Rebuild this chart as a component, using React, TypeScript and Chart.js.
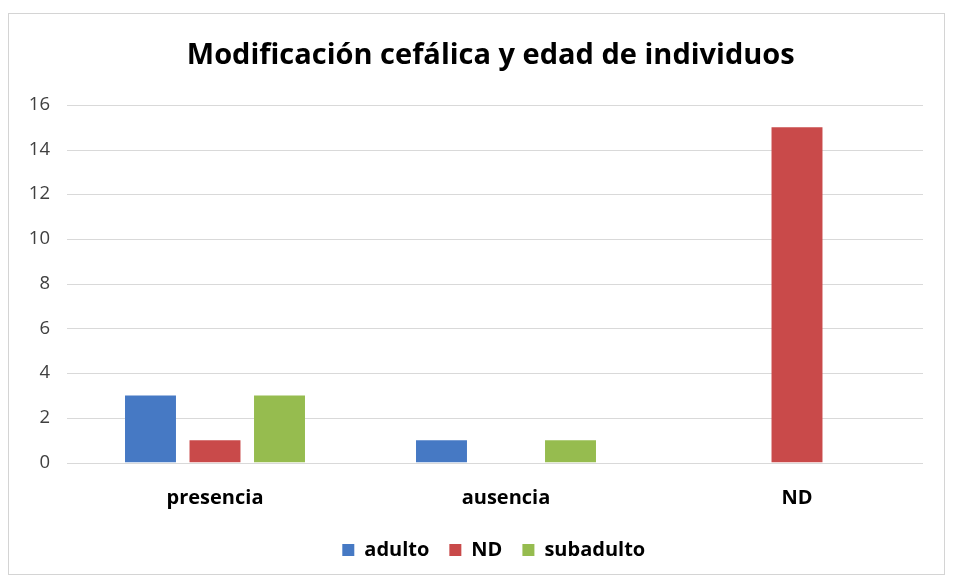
import React, { useEffect, useRef } from "react";
import { Chart, registerables } from "chart.js";

Chart.register(...registerables);

const categories = ["presencia", "ausencia", "ND"];
const adulto = [3, 1, 0];
const nd = [1, 0, 15];
const subadulto = [3, 1, 0];
const yTicks = [0, 2, 4, 6, 8, 10, 12, 14, 16];

const FONT = "'Open Sans', 'Noto Sans', sans-serif";

const gridPlugin = {
  id: "excelGrid",
  beforeDatasetsDraw(chart: any) {
    const { ctx, chartArea, scales } = chart;
    const y = scales.y;
    ctx.save();
    ctx.strokeStyle = "#d9d9d9";
    ctx.lineWidth = 1;
    y.ticks.forEach((t: any) => {
      const py = Math.round(y.getPixelForValue(t.value)) + 0.5;
      ctx.beginPath();
      ctx.moveTo(chartArea.left - 2.5, py);
      ctx.lineTo(chartArea.right - 19.5, py);
      ctx.stroke();
    });
    ctx.restore();
  },
  afterLayout(chart: any) {
    if (chart.titleBlock) chart.titleBlock.left += 22;
    if (chart.legend) chart.legend.left += 28;
  },
};

export default function App() {
  const ref = useRef<HTMLCanvasElement | null>(null);

  useEffect(() => {
    if (!ref.current) return;
    const chart = new Chart(ref.current, {
      type: "bar",
      data: {
        labels: categories,
        datasets: [
          { label: "adulto", data: adulto, backgroundColor: "#4679c4" },
          { label: "ND", data: nd, backgroundColor: "#c94a4a" },
          { label: "subadulto", data: subadulto, backgroundColor: "#96bc4f" },
        ],
      },
      options: {
        animation: false,
        responsive: false,
        maintainAspectRatio: false,
        layout: { padding: { left: 8, right: 1.5, top: 0, bottom: 4 } },
        datasets: {
          bar: { categoryPercentage: 0.665, barPercentage: 0.79 },
        },
        plugins: {
          title: {
            display: true,
            text: "Modificación cefálica y edad de individuos",
            color: "#000000",
            font: { family: FONT, size: 29, weight: "bold" },
            padding: { top: 24.5, bottom: 31.5 },
          },
          legend: {
            position: "bottom",
            labels: {
              boxWidth: 12,
              boxHeight: 12,
              padding: 20,
              color: "#000000",
              font: { family: FONT, size: 20, weight: "bold" },
            },
          },
          tooltip: { enabled: false },
        },
        scales: {
          x: {
            grid: { display: false, drawTicks: false },
            border: { display: false },
            ticks: {
              color: "#000000",
              padding: 23.5,
              font: { family: FONT, size: 20, weight: "bold" },
            },
            afterFit: (s: any) => {
              s.height = 57.5;
            },
          },
          y: {
            min: 0,
            max: 16,
            afterBuildTicks: (s: any) => {
              s.ticks = yTicks.map((v) => ({ value: v }));
            },
            grid: { display: false, drawTicks: false },
            border: { display: false },
            ticks: {
              color: "#404040",
              padding: 19.5,
              font: { family: FONT, size: 18.5 },
            },
            afterFit: (s: any) => {
              s.width = 52.5;
            },
          },
        },
      },
      plugins: [gridPlugin],
    });
    return () => chart.destroy();
  }, []);

  return (
    <div
      style={{
        marginTop: 5,
        width: 937,
        height: 562,
        border: "1px solid #d4d4d4",
        boxSizing: "border-box",
        background: "#ffffff",
      }}
    >
      <canvas ref={ref} width={935} height={560} style={{ display: "block" }} />
    </div>
  );
}
